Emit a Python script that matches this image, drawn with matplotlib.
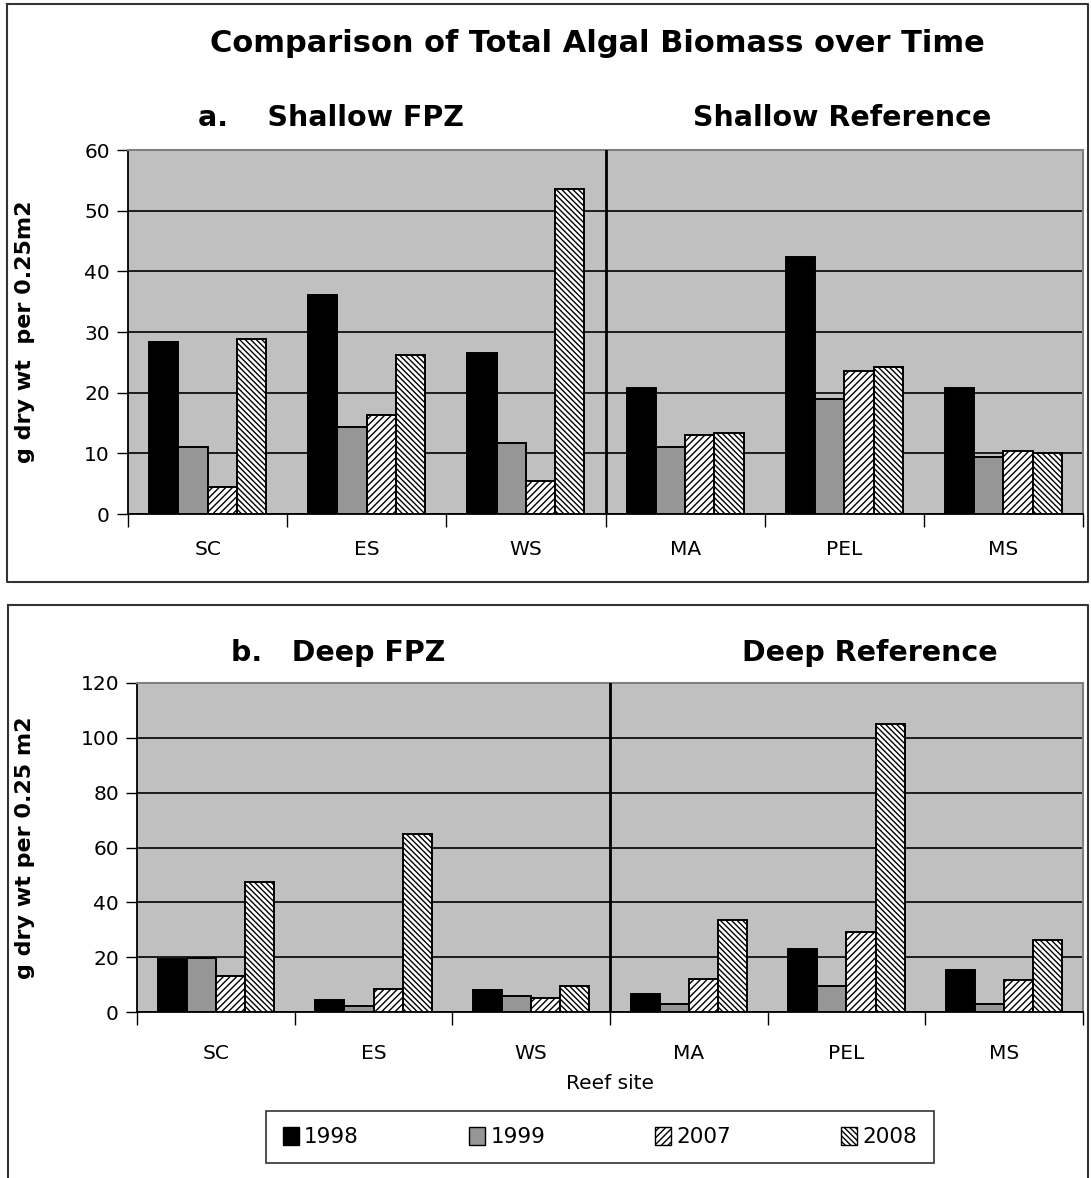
import numpy as np
import matplotlib.pyplot as plt
from matplotlib.patches import Patch
from matplotlib.lines import Line2D

# reef sites and survey years
sites = ["SC", "ES", "WS", "MA", "PEL", "MS"]
years = ["1998", "1999", "2007", "2008"]

# shallow sites, g dry wt per 0.25 m2
shallow_1998 = [28.3, 36.1, 26.6, 20.7, 42.4, 20.7]
shallow_1999 = [11.1, 14.4, 11.7, 11.1, 19.0, 9.4]
shallow_2007 = [4.4, 16.3, 5.5, 13.1, 23.6, 10.4]
shallow_2008 = [28.8, 26.2, 53.5, 13.4, 24.3, 10.1]

# deep sites, g dry wt per 0.25 m2
deep_1998 = [19.2, 4.5, 8.2, 6.7, 22.8, 15.5]
deep_1999 = [19.7, 2.2, 6.0, 3.1, 9.4, 3.1]
deep_2007 = [13.0, 8.5, 5.0, 12.2, 29.1, 11.6]
deep_2008 = [47.3, 65.0, 9.4, 33.5, 104.9, 26.2]

W, H = 1091, 1178
plt.rcParams['font.family'] = 'DejaVu Sans'
plt.rcParams['hatch.linewidth'] = 1.0

fig = plt.figure(figsize=(W / 100, H / 100), dpi=100)


def px_rect(l, t, r, b):
    return [l / W, 1 - b / H, (r - l) / W, (b - t) / H]


def fx(x):
    return x / W


def fy(y):
    return 1 - y / H


# year styles: (face, hatch)
styles = [("black", None), ("#969696", None),
          ("white", "/////"), ("white", "\\\\\\\\\\\\")]


def draw_panel(ax, series, ymax, ystep, ylabel, xpad):
    x = np.arange(len(sites))
    w = 0.184
    ax.set_facecolor("#c0c0c0")
    ax.set_axisbelow(True)
    for i, vals in enumerate(series):
        face, hatch = styles[i]
        ax.bar(x + (i - 1.5) * w, vals, width=w, color=face, hatch=hatch,
               edgecolor="black", linewidth=1.4, zorder=3)
    ax.set_xlim(-0.5, len(sites) - 0.5)
    ax.set_ylim(0, ymax)
    ax.set_yticks(np.arange(0, ymax + 1, ystep))
    ax.yaxis.grid(True, color="black", linewidth=1.2)
    ax.set_xticks(x)
    ax.set_xticklabels(sites)
    ax.set_xticks(np.arange(-0.5, len(sites), 1.0), minor=True)
    ax.tick_params(axis="x", which="major", length=0, pad=xpad, labelsize=14.5)
    ax.tick_params(axis="x", which="minor", length=9, width=1, color="black")
    ax.tick_params(axis="y", length=8, width=1, color="black", labelsize=14.5, pad=5)
    ax.axvline(2.5, color="black", linewidth=2, zorder=4)
    for s in ["top", "right"]:
        ax.spines[s].set_color("#808080")
        ax.spines[s].set_linewidth(1.5)
    for s in ["left", "bottom"]:
        ax.spines[s].set_color("black")
        ax.spines[s].set_linewidth(1.3)
    ax.set_ylabel(ylabel, fontsize=16, fontweight="bold")


# panel frames
for l, t, r, b in [(7, 4, 1088, 582), (8, 605, 1088, 1200)]:
    fig.add_artist(Line2D([fx(l), fx(r), fx(r), fx(l), fx(l)],
                          [fy(t), fy(t), fy(b), fy(b), fy(t)],
                          color="#333333", linewidth=1.5))

ax1 = fig.add_axes(px_rect(128, 150, 1083, 514))
draw_panel(ax1, [shallow_1998, shallow_1999, shallow_2007, shallow_2008],
           60, 10, "g dry wt  per 0.25m2", 19)
ax1.yaxis.set_label_coords((35 - 128) / (1083 - 128), 0.5)

ax2 = fig.add_axes(px_rect(137, 683, 1083, 1012))
draw_panel(ax2, [deep_1998, deep_1999, deep_2007, deep_2008],
           120, 20, "g dry wt per 0.25 m2", 23)
ax2.yaxis.set_label_coords((35 - 137) / (1083 - 137), 0.5)
ax2.set_xlabel("Reef site", fontsize=14.5, labelpad=8)

fig.text(fx(597), fy(43), "Comparison of Total Algal Biomass over Time",
         ha="center", va="center", fontsize=22, fontweight="bold")
fig.text(fx(331), fy(118), "a.    Shallow FPZ", ha="center", va="center",
         fontsize=20.5, fontweight="bold")
fig.text(fx(842), fy(118), "Shallow Reference", ha="center", va="center",
         fontsize=20.5, fontweight="bold")
fig.text(fx(338), fy(653), "b.   Deep FPZ", ha="center", va="center",
         fontsize=20.5, fontweight="bold")
fig.text(fx(870), fy(653), "Deep Reference", ha="center", va="center",
         fontsize=20.5, fontweight="bold")

handles = [Patch(facecolor=f, hatch=h, edgecolor="black", linewidth=1)
           for f, h in styles]
leg = fig.legend(handles, years, loc="center", ncol=4,
                 bbox_to_anchor=(fx(600), fy(1137)),
                 fontsize=15.5, handlelength=0.75, handleheight=0.9,
                 handletextpad=0.25, columnspacing=5.1, fancybox=False,
                 borderpad=0.75, borderaxespad=0)
leg.get_frame().set_edgecolor("black")
leg.get_frame().set_linewidth(1.2)

fig.savefig("out.png", dpi=100)
